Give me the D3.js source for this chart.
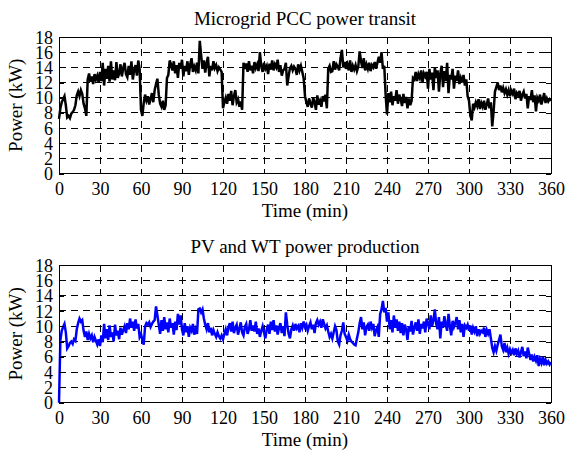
<!DOCTYPE html>
<html>
<head>
<meta charset="utf-8">
<script src="https://cdn.jsdelivr.net/npm/d3@7"></script>
<style>
  html, body { margin: 0; padding: 0; background: #fff; }
  svg { display: block; }
  text { font-family: "Liberation Serif", "Times New Roman", serif; fill: #000; }
</style>
</head>
<body>
<svg id="chart" width="568" height="450"></svg>
<script>
// Sampling instants, one per minute over the six-hour run
const minutes = d3.range(0, 361);

// Power exchanged at the microgrid point of common coupling (kW)
const pccPower = [
  7.2, 8.6, 9.4, 9.8, 10.2, 9.0, 7.4, 7.6, 7.3, 7.9,
  8.1, 8.4, 9.0, 10.3, 10.8, 10.2, 11.0, 10.5, 9.2, 8.6,
  7.6, 12.4, 13.2, 12.1, 12.8, 11.8, 13.1, 12.4, 12.9, 12.0,
  13.4, 12.2, 14.6, 11.6, 13.8, 12.5, 14.2, 12.1, 14.8, 12.4,
  13.6, 12.3, 14.7, 12.6, 13.2, 14.4, 12.8, 13.9, 14.6, 13.1,
  12.7, 14.2, 13.0, 14.8, 12.4, 13.6, 14.3, 12.9, 14.9, 13.8,
  8.4, 7.6, 9.3, 10.4, 9.6, 10.2, 9.1, 9.8, 10.6, 9.4,
  11.0, 11.8, 12.5, 10.4, 9.2, 8.8, 9.6, 8.4, 9.0, 12.6,
  13.0, 14.9, 14.4, 13.6, 14.8, 13.2, 14.3, 12.6, 14.6, 13.8,
  15.0, 12.8, 14.2, 13.5, 14.8, 13.0, 14.4, 15.2, 13.4, 14.1,
  13.6, 14.6, 13.2, 17.5, 15.6, 13.8, 14.9, 13.3, 14.6, 15.4,
  12.8, 14.2, 13.6, 14.8, 13.9, 14.3, 13.5, 14.0, 13.7, 13.4,
  8.6, 9.4, 10.0, 9.2, 10.5, 9.6, 10.9, 9.0, 10.2, 11.0,
  9.4, 9.8, 8.8, 9.5, 8.4, 14.6, 13.8, 14.5, 13.4, 14.8,
  13.6, 14.2, 13.2, 14.7, 13.9, 14.4, 13.5, 16.0, 14.1, 13.4,
  14.6, 13.8, 14.2, 13.1, 14.5, 13.7, 14.9, 13.6, 14.4, 14.0,
  15.0, 13.4, 14.3, 12.9, 13.6, 13.8, 14.6, 11.6, 12.8, 13.9,
  14.2, 13.6, 14.1, 13.8, 13.0, 14.4, 13.6, 14.2, 13.4, 12.6,
  10.2, 9.4, 8.8, 9.9, 9.2, 8.7, 10.0, 9.4, 8.4, 10.3,
  9.1, 9.6, 8.8, 10.2, 9.5, 10.4, 8.6, 13.8, 14.2, 13.4,
  13.5, 14.8, 13.7, 14.4, 14.1, 13.6, 15.2, 16.3, 14.0, 14.7,
  13.8, 14.4, 13.6, 14.9, 13.4, 14.2, 13.7, 14.3, 13.5, 14.1,
  16.1, 14.8, 13.9, 15.2, 13.6, 14.4, 13.8, 14.6, 13.5, 14.3,
  14.0, 14.7, 13.8, 14.6, 15.4, 14.6, 16.0, 13.8, 14.2, 10.4,
  7.8, 10.6, 9.4, 10.8, 9.0, 10.2, 9.6, 11.0, 9.2, 10.4,
  9.8, 8.9, 10.5, 9.3, 10.1, 8.6, 9.9, 9.0, 9.6, 12.6,
  12.4, 13.4, 12.2, 13.1, 12.6, 13.6, 12.0, 13.2, 12.8, 13.4,
  11.2, 13.8, 12.4, 13.3, 11.0, 14.0, 12.6, 13.6, 10.8, 13.2,
  14.2, 11.4, 13.5, 12.2, 14.6, 10.6, 13.0, 12.4, 13.8, 11.2,
  12.9, 12.2, 13.6, 11.8, 12.6, 12.0, 13.0, 11.6, 12.4, 10.2,
  9.6, 7.6, 7.0, 9.2, 8.7, 9.4, 8.9, 9.8, 8.5, 9.3,
  8.8, 9.6, 8.4, 9.1, 9.9, 8.6, 9.4, 6.2, 8.2, 10.8,
  11.4, 12.0, 11.0, 11.6, 10.7, 11.3, 10.6, 11.1, 10.4, 11.0,
  10.2, 10.9, 10.5, 11.2, 9.8, 10.6, 10.3, 10.9, 9.6, 10.4,
  10.8, 9.9, 10.5, 8.6, 10.2, 9.7, 11.0, 9.4, 10.3, 8.2,
  10.0, 9.6, 10.4, 9.1, 9.8, 10.6, 9.3, 9.9, 9.5, 9.8,
  9.6
];

// Combined photovoltaic and wind turbine output (kW)
const renewablePower = [
  0, 8.2, 9.4, 9.9, 10.3, 9.2, 7.1, 7.4, 7.8, 8.0,
  7.7, 8.3, 8.1, 9.6, 10.4, 11.0, 10.6, 10.8, 9.4, 8.6,
  9.3, 8.2, 9.0, 8.4, 8.8, 7.9, 8.6, 8.1, 7.6, 8.3,
  7.4, 8.8, 7.9, 10.3, 8.4, 9.6, 8.2, 10.1, 8.6, 9.2,
  8.0, 10.2, 8.8, 9.4, 8.3, 9.8, 8.9, 9.5, 10.0, 9.1,
  10.4, 9.6, 11.0, 9.8, 10.6, 9.4, 10.9, 9.7, 10.3, 8.6,
  9.0, 8.2, 7.6, 10.0, 10.4, 10.2, 10.5, 9.9, 10.3, 10.6,
  10.8, 12.6, 11.4, 10.2, 9.0, 10.8, 9.4, 11.2, 9.6, 10.5,
  9.2, 11.0, 9.8, 10.4, 8.9, 10.6, 9.5, 11.6, 10.2, 11.4,
  9.6, 8.8, 10.4, 9.2, 10.0, 8.6, 9.8, 9.4, 10.3, 8.9,
  9.6, 9.0, 12.2, 12.3, 11.8, 12.2, 11.0, 10.2, 9.6, 10.4,
  9.2, 9.8, 8.8, 9.5, 9.0, 8.6, 9.2, 8.7, 8.4, 8.8,
  8.3, 9.0, 9.6, 8.8, 9.9, 10.4, 9.3, 10.6, 9.1, 9.8,
  10.2, 8.9, 9.7, 10.5, 9.2, 8.8, 9.9, 10.3, 9.0, 9.6,
  10.8, 9.4, 10.1, 9.3, 10.6, 9.0, 9.7, 8.6, 9.4, 10.0,
  9.2, 8.4, 9.6, 10.2, 9.0, 10.6, 9.5, 10.8, 9.3, 10.1,
  8.9, 9.8, 10.4, 9.1, 10.0, 8.7, 11.8, 10.2, 9.0, 8.4,
  9.6, 10.1, 9.4, 10.3, 9.7, 10.0, 9.2, 10.4, 9.8, 10.6,
  9.9, 10.2, 9.4, 10.0, 10.5, 9.6, 10.2, 9.1, 10.4, 10.8,
  10.2, 10.6, 9.8, 10.9, 10.3, 9.7, 10.1, 9.3, 8.6, 9.0,
  8.4, 9.2, 10.0, 9.5, 8.0, 7.6, 8.8, 9.4, 10.5, 9.0,
  8.6, 8.1, 8.9, 8.3, 8.0, 7.8, 7.6, 7.5, 8.4, 9.2,
  10.4, 11.2, 9.6, 10.5, 8.8, 9.9, 10.2, 9.4, 10.6, 9.8,
  10.3, 8.7, 9.5, 9.9, 8.6, 11.6, 12.2, 13.3, 11.8, 12.4,
  10.6, 11.8, 9.6, 10.8, 9.2, 11.4, 9.8, 10.9, 9.4, 10.6,
  9.1, 10.4, 8.8, 10.2, 9.6, 8.2, 10.0, 9.3, 10.7, 8.9,
  9.8, 10.5, 9.4, 10.9, 9.0, 10.3, 9.7, 10.6, 9.2, 11.0,
  10.4, 9.6, 11.4, 10.0, 10.8, 12.2, 10.3, 9.6, 11.2, 8.4,
  10.6, 9.8, 11.3, 10.2, 9.4, 11.6, 10.0, 8.8, 10.7, 9.9,
  10.4, 11.2, 9.6, 10.8, 9.2, 10.3, 8.6, 10.1, 9.8, 10.2,
  9.4, 10.1, 8.9, 9.8, 9.3, 10.0, 8.7, 9.6, 9.0, 9.4,
  9.2, 9.8, 8.6, 9.5, 9.0, 9.6, 8.4, 7.2, 6.6, 7.4,
  6.8, 7.6, 8.2, 8.9, 7.4, 6.9, 7.8, 6.6, 7.2, 6.4,
  7.0, 6.5, 6.9, 6.2, 7.1, 6.4, 6.8, 5.9, 6.6, 7.3,
  6.1, 6.7, 5.8, 7.2, 6.4, 5.6, 6.3, 5.4, 6.0, 5.5,
  6.2, 4.8, 5.7, 5.2, 6.0, 4.9, 5.6, 5.1, 5.4, 5.0,
  5.3
];

// Axis tick values
const timeTicks = [0, 30, 60, 90, 120, 150, 180, 210, 240, 270, 300, 330, 360];
const powerTicks = [0, 2, 4, 6, 8, 10, 12, 14, 16, 18];

const panels = [
  { title: "Microgrid PCC power transit", values: pccPower, color: "#000000", top: 37, bottom: 173.5 },
  { title: "PV and WT power production", values: renewablePower, color: "#0000ff", top: 265, bottom: 402.7 }
];

const svg = d3.select("#chart");
const left = 59, right = 551;
const tickLen = 5;

panels.forEach(p => {
  const x = d3.scaleLinear().domain([0, 360]).range([left, right]);
  const y = d3.scaleLinear().domain([0, 18]).range([p.bottom, p.top]);
  const g = svg.append("g");
  const h = p.bottom - p.top, w = right - left;

  // dashed grid
  const grid = g.append("g").attr("class", "grid");
  grid.selectAll("line.v").data(timeTicks.slice(1, -1)).join("line")
    .attr("x1", d => x(d)).attr("x2", d => x(d))
    .attr("y1", p.top).attr("y2", p.bottom);
  grid.selectAll("line.h").data(powerTicks.slice(1, -1)).join("line")
    .attr("y1", d => y(d)).attr("y2", d => y(d))
    .attr("x1", left).attr("x2", right);
  grid.selectAll("line")
    .attr("stroke", "#000").attr("stroke-width", 1)
    .attr("stroke-dasharray", "7,5").attr("shape-rendering", "crispEdges");

  // data trace
  const line = d3.line().x((d, i) => x(minutes[i])).y(d => y(d));
  g.append("path").datum(p.values)
    .attr("d", line).attr("fill", "none")
    .attr("stroke", p.color).attr("stroke-width", 2.5)
    .attr("stroke-linejoin", "miter");

  // inward ticks on all four sides
  const axB = d3.axisBottom(x).tickValues(timeTicks).tickSize(-tickLen).tickPadding(9);
  const axT = d3.axisTop(x).tickValues(timeTicks).tickSize(-tickLen).tickFormat("");
  const axL = d3.axisLeft(y).tickValues(powerTicks).tickSize(-tickLen).tickPadding(6);
  const axR = d3.axisRight(y).tickValues(powerTicks).tickSize(-tickLen).tickFormat("");

  const gb = g.append("g").attr("transform", `translate(0,${p.bottom})`).call(axB);
  const gt = g.append("g").attr("transform", `translate(0,${p.top})`).call(axT);
  const gl = g.append("g").attr("transform", `translate(${left},0)`).call(axL);
  const gr = g.append("g").attr("transform", `translate(${right},0)`).call(axR);
  [gb, gt, gl, gr].forEach(a => {
    a.select(".domain").remove();
    a.selectAll("line").attr("stroke", "#000").attr("shape-rendering", "crispEdges");
    a.selectAll("text").attr("font-size", 18).attr("font-family", "Liberation Serif, serif").attr("fill", "#000");
  });
  gb.selectAll("text").attr("dy", "0.71em");
  gl.selectAll("text").attr("dy", "0.34em");

  // axes box
  g.append("rect").attr("x", left).attr("y", p.top).attr("width", w).attr("height", h)
    .attr("fill", "none").attr("stroke", "#000").attr("stroke-width", 1)
    .attr("shape-rendering", "crispEdges");

  // title and labels
  g.append("text").attr("x", (left + right) / 2).attr("y", p.top - 12)
    .attr("text-anchor", "middle").attr("font-size", 19).text(p.title);
  g.append("text").attr("x", (left + right) / 2).attr("y", p.bottom + 43)
    .attr("text-anchor", "middle").attr("font-size", 19).text("Time (min)");
  g.append("text")
    .attr("transform", `translate(22,${(p.top + p.bottom) / 2}) rotate(-90)`)
    .attr("text-anchor", "middle").attr("font-size", 19).text("Power (kW)");
});
</script>
</body>
</html>
